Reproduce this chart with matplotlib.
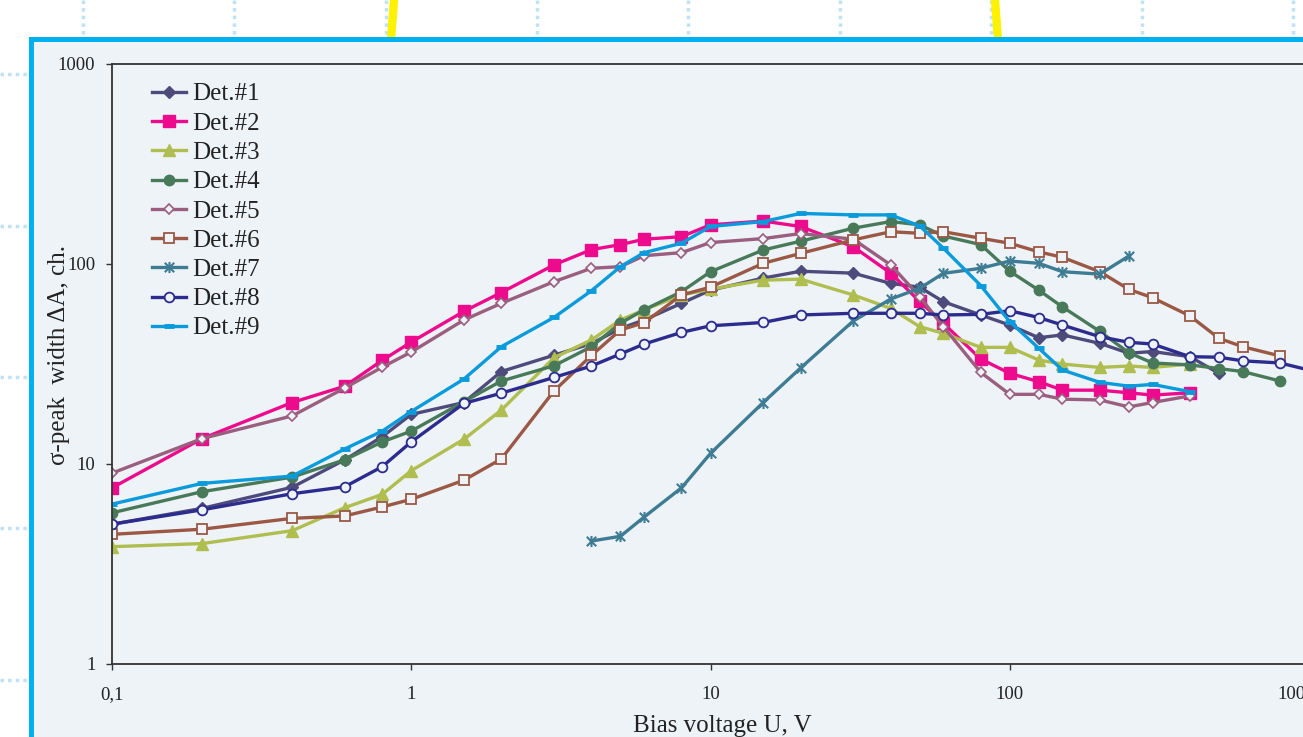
import matplotlib
matplotlib.use("Agg")
import matplotlib.pyplot as plt
import matplotlib.transforms as mtransforms
from matplotlib.path import Path
from matplotlib.patches import Rectangle
from matplotlib.lines import Line2D

plt.rcParams['font.family'] = ['Liberation Serif', 'DejaVu Serif']

# bias voltage (V)
u_full = [0.1, 0.2, 0.4, 0.6, 0.8, 1, 1.5, 2, 3, 4, 5, 6, 8, 10, 15, 20, 30, 40,
          50, 60, 80, 100, 125, 150, 200, 250, 300, 400, 500, 600, 800]
u_400 = u_full[:28]
u_500 = u_full[:29]
u_det7 = [4, 5, 6, 8, 10, 15, 20, 30, 40, 50, 60, 80, 100, 125, 150, 200, 250]
u_det8 = u_full + [1000]

# sigma-peak width (ch.)
det1 = [5.0, 6.0, 7.65, 10.5, 13.7, 17.7, 20.3, 29, 35, 40, 47.6, 52.5, 63.6, 74, 85, 92,
        90, 80, 76.6, 64.8, 55.6, 49.5, 42.8, 44.2, 40.1, 35.8, 36.5, 34.4, 28.4]
det2 = [7.6, 13.4, 20.3, 24.5, 33, 40.7, 58, 72, 99, 118, 125, 133, 137, 157, 164, 154,
        122, 90, 65, 50.5, 33.5, 28.4, 25.8, 23.4, 23.4, 22.7, 22.1, 22.7]
det3 = [3.86, 4.0, 4.64, 6.05, 7.05, 9.26, 13.3, 18.6, 34, 41.7, 52.5, 59, 70, 74.8, 83, 84,
        70, 60, 48.6, 45, 38.3, 38.3, 33.1, 31.6, 30.4, 30.9, 30.4, 31.6]
det4 = [5.7, 7.27, 8.6, 10.5, 12.9, 14.6, 20.5, 26, 31, 38.6, 50.6, 59, 72.7, 91.5, 117.5,
        130, 151, 163, 157, 138, 125, 92, 74, 61, 46, 36, 32, 31.3, 30, 29, 26]
det5 = [9.0, 13.4, 17.4, 24.0, 30.5, 36.3, 52.5, 63.6, 81.6, 95.2, 97, 110, 114, 128, 134,
        142, 133, 99, 68.7, 48.6, 28.7, 22.3, 22.3, 21.1, 20.9, 19.3, 20.3, 21.9]
det6 = [4.45, 4.72, 5.35, 5.5, 6.1, 6.66, 8.3, 10.6, 23.2, 34.9, 46.8, 50.9, 70, 76.6, 100.8,
        113, 132, 145, 142.4, 145, 134.5, 127, 115, 108, 91.5, 74.7, 67.8, 55, 42.5, 38.6, 34.7]
det7 = [4.12, 4.35, 5.43, 7.6, 11.3, 20.3, 30.2, 51.9, 66.8, 75.6, 89.8, 95.2, 103.5, 100.8,
        91.5, 89, 109.6]
det8 = [5.0, 5.9, 7.1, 7.7, 9.7, 12.9, 20.1, 22.6, 27.1, 30.9, 35.5, 39.8, 45.5, 49.1, 51,
        55.6, 56.7, 56.7, 56.7, 55.6, 56, 58.4, 54, 49.5, 43.3, 40.6, 39.8, 34.4, 34.2, 32.8,
        32, 29.5]
det9 = [6.3, 8.0, 8.7, 11.9, 14.6, 18.3, 26.6, 38.6, 54.1, 73.5, 97, 114, 127, 154, 163, 179,
        176, 176, 155, 120, 78, 51.5, 37.9, 29.5, 25.6, 24.5, 25.0, 23.0]

labels = ['Det.#1', 'Det.#2', 'Det.#3', 'Det.#4', 'Det.#5', 'Det.#6', 'Det.#7', 'Det.#8', 'Det.#9']
xticks = [0.1, 1, 10, 100, 1000]
xticklabels = ['0,1', '1', '10', '100', '1000']
yticks = [1, 10, 100, 1000]
yticklabels = ['1', '10', '100', '1000']

W, H = 1303, 737
fig = plt.figure(figsize=(W / 100, H / 100), dpi=100)
fig.patch.set_facecolor('white')

# slide decoration: dotted grid on white, yellow strokes, blue framed panel
dot = '#BFE3F4'
for gx in [83, 234, 386, 537, 688, 840, 991, 1142, 1293]:
    fig.add_artist(Line2D([gx / W, gx / W], [1, 1 - 40 / H], color=dot, lw=2.5,
                          ls=(0, (1, 1.2)), transform=fig.transFigure, zorder=-3))
for gy in [74, 226, 377, 528, 680]:
    fig.add_artist(Line2D([0, 30 / W], [1 - gy / H, 1 - gy / H], color=dot, lw=2.5,
                          ls=(0, (1, 1.2)), transform=fig.transFigure, zorder=-3))
fig.add_artist(Line2D([394 / W, 391 / W], [1, 1 - 40 / H], color='#FFF200', lw=6,
                      transform=fig.transFigure, zorder=-2))
fig.add_artist(Line2D([995 / W, 998 / W], [1, 1 - 40 / H], color='#FFF200', lw=6,
                      transform=fig.transFigure, zorder=-2))
fig.add_artist(Rectangle((31 / W, -0.2), 1.3, 1.2 - 38.5 / H, transform=fig.transFigure,
                         facecolor='#EEF3F8', edgecolor='#00B0F0', lw=3.6, zorder=-1))

ax = fig.add_axes([112 / W, 73 / H, (1309 - 112) / W, 600 / H])
ax.set_facecolor('none')
ax.set_xscale('log')
ax.set_yscale('log')
ax.set_xlim(0.1, 1000)
ax.set_ylim(1, 1000)

star = Path([(0, -1), (0, 1), (-0.85, -0.85), (0.85, 0.85), (-0.85, 0.85), (0.85, -0.85)],
            [Path.MOVETO, Path.LINETO, Path.MOVETO, Path.LINETO, Path.MOVETO, Path.LINETO])

bg = '#EEF3F8'
lw = 2.4
ax.plot(u_500, det1, color='#4E4A7B', lw=lw, marker='D', ms=6, label=labels[0])
ax.plot(u_400, det2, color='#EE0A8C', lw=lw, marker='s', ms=8, label=labels[1])
ax.plot(u_400, det3, color='#AFBE4F', lw=lw, marker='^', ms=8.5, label=labels[2])
ax.plot(u_full, det4, color='#487A5A', lw=lw, marker='o', ms=7.5, label=labels[3])
ax.plot(u_400, det5, color='#9A5E7E', lw=lw, marker='D', ms=5.5, mfc=bg, mew=1.2,
        label=labels[4])
ax.plot(u_full, det6, color='#9A5845', lw=lw, marker='s', ms=7, mfc=bg, mew=1.3,
        label=labels[5])
ax.plot(u_det7, det7, color='#3E7C93', lw=lw, marker=star, ms=8, mew=1.5, label=labels[6])
ax.plot(u_det8, det8, color='#2C2B8E', lw=lw, marker='o', ms=7, mfc=bg, mew=1.3,
        label=labels[7])
ax.plot(u_400, det9, color='#0A9BDC', lw=lw, marker='_', ms=7, mew=3.5, label=labels[8])

ax.set_xticks(xticks)
ax.set_xticklabels(xticklabels)
ax.set_yticks(yticks)
ax.set_yticklabels(yticklabels)
ax.minorticks_off()
ax.tick_params(axis='both', direction='out', length=4, width=1, color='#333333',
               labelsize=13.5, labelcolor='#222222')
ax.tick_params(axis='x', pad=12)
ax.tick_params(axis='y', pad=8)

# last x label is pulled inward a little, as in the original slide
last = ax.get_xticklabels()[-1]
last.set_transform(last.get_transform() +
                   mtransforms.ScaledTranslation(-13 / 100, 0, fig.dpi_scale_trans))

for side in ['left', 'bottom', 'top']:
    ax.spines[side].set_color('#333333')
    ax.spines[side].set_linewidth(1.3)
ax.spines['right'].set_visible(False)

ax.set_xlabel('Bias voltage U, V', fontsize=18, color='#222222')
ax.xaxis.set_label_coords((722 - 112) / 1197, -0.085)
ax.set_ylabel('σ-peak  width ΔA, ch.', fontsize=18, color='#222222')
ax.yaxis.set_label_coords(-(112 - 59) / 1197, 0.515)
ax.yaxis.label.set_va('center')

leg = ax.legend(loc='upper left', bbox_to_anchor=(40 / 1197, 1 - 19 / 600), frameon=False,
                fontsize=18, borderpad=0, borderaxespad=0, labelspacing=0.27,
                handlelength=1.36, handletextpad=0.25)
for t in leg.get_texts():
    t.set_color('#222222')

fig.savefig('out.png', dpi=100, facecolor=fig.get_facecolor())
